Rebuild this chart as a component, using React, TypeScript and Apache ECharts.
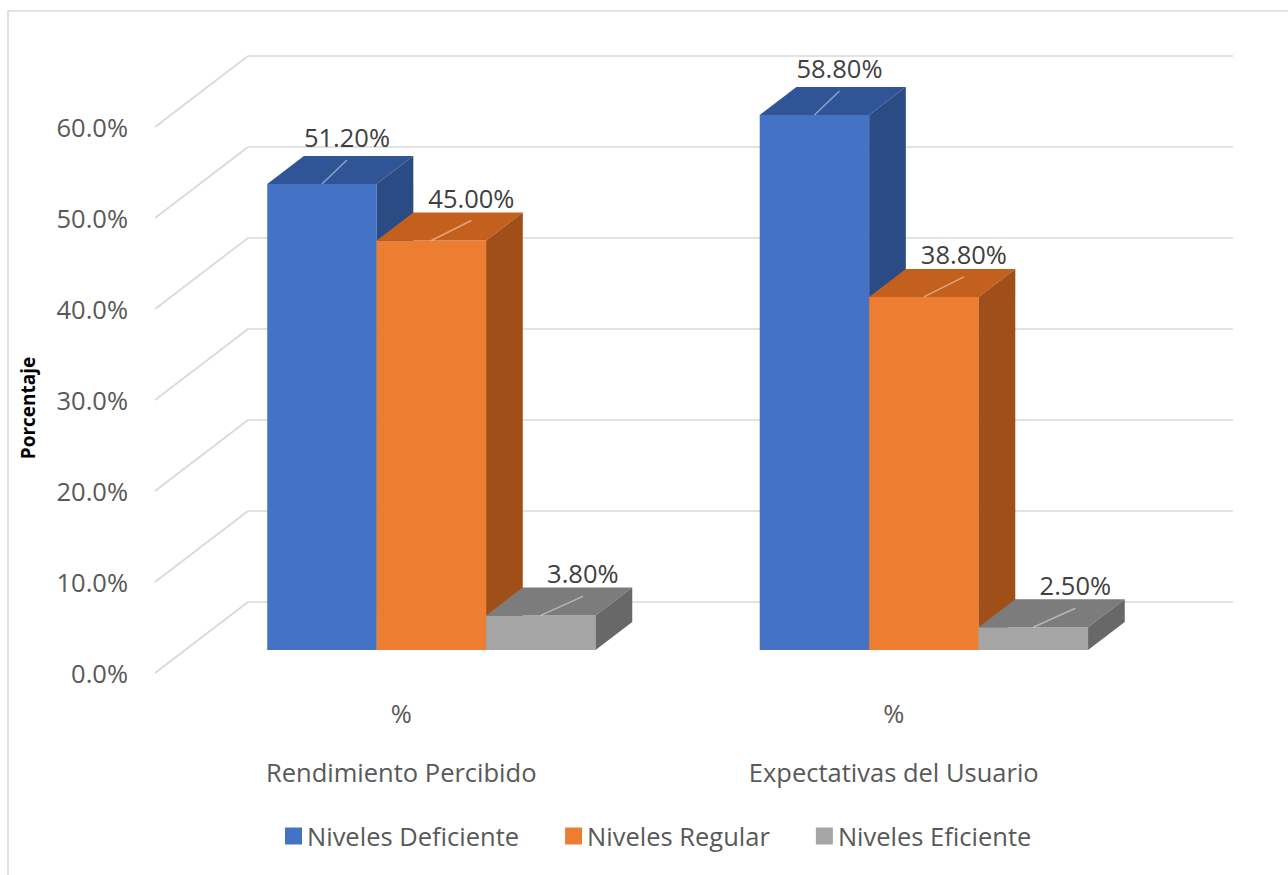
import React, { useEffect, useRef } from "react";
import * as echarts from "echarts";

// ---------- data ----------
const categories = ["Rendimiento Percibido", "Expectativas del Usuario"];
const subCategory = "%";
const seriesNames = ["Niveles Deficiente", "Niveles Regular", "Niveles Eficiente"];
const deficiente = [51.2, 58.8];
const regular = [45.0, 38.8];
const eficiente = [3.8, 2.5];
const yTicks = [0, 10, 20, 30, 40, 50, 60];

// ---------- styles ----------
const FONT = "Open Sans";
const FS = 25.5;
const SLOPE = 1.31; // horizontal shift per px of vertical depth shift
const DEPTH_FRONT = 23; // label plane -> bar front
const DEPTH_BAR = 28; // bar depth
const DEPTH_WALL = 71; // label plane -> back wall
const GRID_COLOR = "#d9d9d9";

const palette = [
  { front: "#4472C4", top: "#2F5597", side: "#2A4B83", label: [25, -47] },
  { front: "#ED7D31", top: "#C4601D", side: "#A04F18", label: [40, -43] },
  { front: "#A5A5A5", top: "#7C7C7C", side: "#686868", label: [42, -42] },
];

function barRenderer(idx: number) {
  return (params: any, api: any) => {
    const cat = api.value(0);
    const val = api.value(1);
    const top = api.coord([cat, val]);
    const base = api.coord([cat, 0]);
    const band = api.size([1, 0])[0];
    const w = (band * 2) / 9;
    const x0 = top[0] - band / 3 + idx * w + DEPTH_FRONT * SLOPE;
    const yTop = top[1] - DEPTH_FRONT;
    const yBase = base[1] - DEPTH_FRONT;
    const dx = DEPTH_BAR * SLOPE;
    const dy = DEPTH_BAR;
    const c = palette[idx];
    const cx = x0 + w / 2;
    const lx = cx + c.label[0];
    const ly = yTop + c.label[1];
    return {
      type: "group",
      children: [
        {
          type: "rect",
          shape: { x: x0, y: yTop, width: w, height: yBase - yTop },
          style: { fill: c.front },
        },
        {
          type: "polygon",
          shape: {
            points: [
              [x0, yTop],
              [x0 + w, yTop],
              [x0 + w + dx, yTop - dy],
              [x0 + dx, yTop - dy],
            ],
          },
          style: { fill: c.top },
        },
        {
          type: "polygon",
          shape: {
            points: [
              [x0 + w, yTop],
              [x0 + w + dx, yTop - dy],
              [x0 + w + dx, yBase - dy],
              [x0 + w, yBase],
            ],
          },
          style: { fill: c.side },
        },
        {
          type: "line",
          shape: { x1: cx, y1: yTop, x2: lx, y2: ly + 23 },
          style: { stroke: "rgba(255,255,255,0.45)", lineWidth: 1.5 },
        },
        {
          type: "text",
          x: lx,
          y: ly,
          style: {
            text: val.toFixed(2) + "%",
            fill: "#404040",
            font: `${FS}px "${FONT}"`,
            align: "center",
            verticalAlign: "middle",
          },
        },
      ],
    };
  };
}

function gridRenderer(params: any, api: any) {
  const v = api.value(1);
  const p = api.coord([0, v]);
  const cs = params.coordSys;
  const x0 = cs.x;
  const x1 = cs.x + cs.width;
  const y = p[1];
  const dx = DEPTH_WALL * SLOPE;
  const style = { stroke: GRID_COLOR, lineWidth: 1.7 };
  return {
    type: "group",
    children: [
      { type: "line", shape: { x1: x0, y1: y, x2: x0 + dx, y2: y - DEPTH_WALL }, style },
      { type: "line", shape: { x1: x0 + dx, y1: y - DEPTH_WALL, x2: x1 + dx, y2: y - DEPTH_WALL }, style },
    ],
  };
}

const seriesValues = [deficiente, regular, eficiente];

export default function App() {
  const ref = useRef<HTMLDivElement>(null);
  useEffect(() => {
    if (!ref.current) return;
    const chart = echarts.init(ref.current, undefined, { renderer: "svg" });
    const option: any = {
      animation: false,
      backgroundColor: "#ffffff",
      textStyle: { fontFamily: FONT },
      graphic: [
        {
          type: "rect",
          shape: { x: 8, y: 11, width: 1300, height: 900 },
          style: { fill: "none", stroke: GRID_COLOR, lineWidth: 1.5 },
          silent: true,
        },
      ],
      grid: { left: 155, top: 127, width: 985, height: 546 },
      legend: {
        data: seriesNames,
        left: 285,
        top: 823,
        padding: 0,
        icon: "rect",
        itemWidth: 17,
        itemHeight: 17,
        itemGap: 46,
        textStyle: { fontSize: FS, color: "#595959", fontFamily: FONT },
      },
      xAxis: {
        type: "category",
        data: categories,
        axisLine: { show: false },
        axisTick: { show: false },
        splitLine: { show: false },
        axisLabel: {
          margin: 25,
          fontSize: FS,
          lineHeight: 29.5,
          color: "#595959",
          fontFamily: FONT,
          formatter: (v: string) => subCategory + "\n\n" + v,
        },
      },
      yAxis: {
        type: "value",
        min: 0,
        max: 60,
        interval: 10,
        name: "Porcentaje",
        nameLocation: "middle",
        nameRotate: 90,
        nameGap: 118,
        nameTextStyle: {
          fontSize: 19,
          fontWeight: "bold",
          color: "#000000",
          fontFamily: FONT,
          padding: [0, 16, 0, 0],
        },
        axisLine: { show: false },
        axisTick: { show: false },
        splitLine: { show: false },
        axisLabel: {
          margin: 27,
          fontSize: FS,
          color: "#595959",
          fontFamily: FONT,
          formatter: (v: number) => v.toFixed(1) + "%",
        },
      },
      series: [
        {
          type: "custom",
          name: "grid",
          silent: true,
          clip: false,
          renderItem: gridRenderer,
          encode: { x: 0, y: 1 },
          data: yTicks.map((t) => [0, t]),
          z: 1,
        },
        ...seriesNames.map((name, i) => ({
          type: "custom",
          name,
          clip: false,
          renderItem: barRenderer(i),
          encode: { x: 0, y: 1 },
          itemStyle: { color: palette[i].front },
          data: seriesValues[i].map((v, c) => [c, v]),
          z: 2,
        })),
      ],
    };
    chart.setOption(option);
    return () => chart.dispose();
  }, []);
  return (
    <div
      ref={ref}
      style={{ position: "absolute", left: 0, top: 0, width: 1288, height: 875 }}
    />
  );
}
